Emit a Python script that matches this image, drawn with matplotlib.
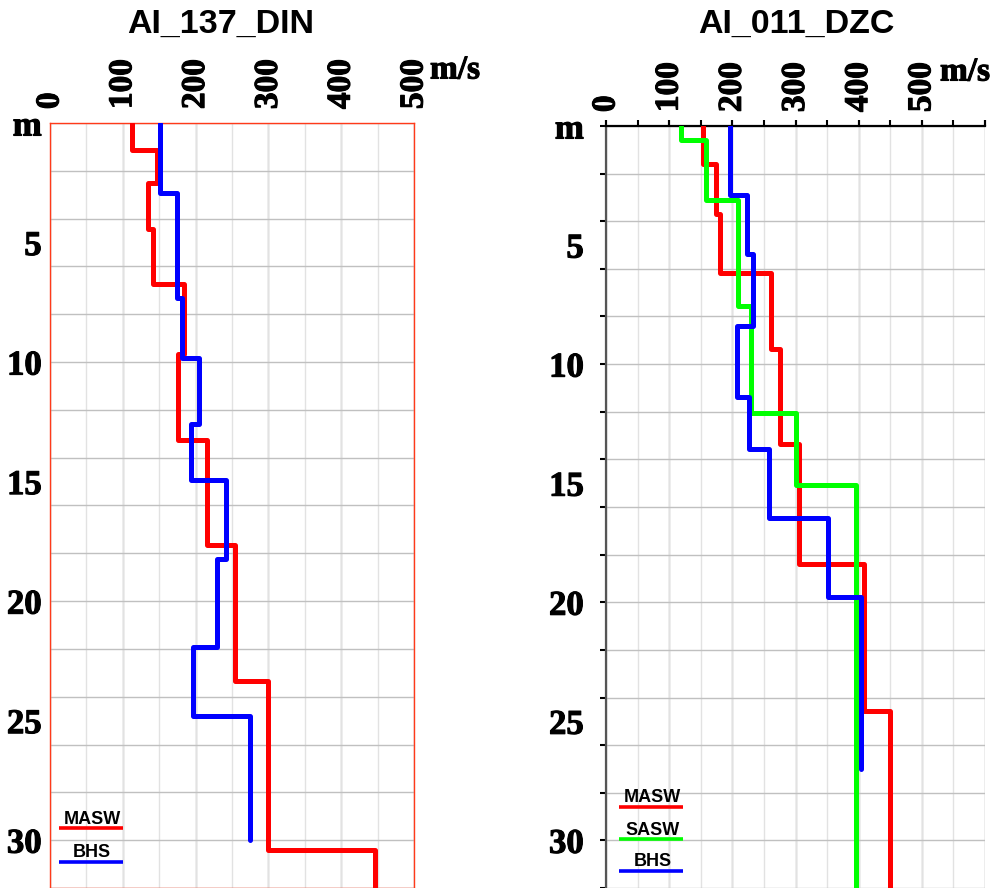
import numpy as np
import matplotlib.pyplot as plt
import matplotlib.patheffects as pe
from matplotlib.ticker import MultipleLocator, FixedLocator

# layer bottoms (m) and velocities (m/s)
din_masw_depth = [0, 1.13, 2.5, 4.43, 6.72, 9.65, 13.25, 17.67, 23.35, 30.4, 32]
din_masw_vel = [113, 147, 134, 142, 184, 176, 215, 254, 299, 446]
din_bhs_depth = [0, 2.92, 7.31, 9.83, 12.57, 14.94, 18.25, 21.9, 24.8, 30.0]
din_bhs_vel = [151, 175, 182, 204, 194, 242, 230, 197, 275]

dzc_masw_depth = [0, 1.61, 3.68, 6.18, 9.38, 13.36, 18.39, 24.56, 32]
dzc_masw_vel = [153, 174, 181, 261, 276, 305, 408, 450]
dzc_sasw_depth = [0, 0.59, 3.09, 7.58, 12.07, 15.06, 32]
dzc_sasw_vel = [119, 159, 209, 229, 300, 396]
dzc_bhs_depth = [0, 2.9, 5.39, 8.38, 11.37, 13.57, 16.48, 19.78, 27.0]
dzc_bhs_vel = [197, 224, 232, 207, 227, 258, 352, 404]

depth_labels = ["m", "5", "10", "15", "20", "25", "30"]
serif = "Liberation Serif"
sans = "Liberation Sans"
heavy = [pe.withStroke(linewidth=0.8, foreground="black")]


def profile(ax, depth, vel, color):
    d = np.asarray(depth)
    v = np.asarray(vel)
    x = np.repeat(v, 2)
    y = np.column_stack([d[:-1], d[1:]]).ravel()
    ax.plot(x, y, color=color, lw=3.6, solid_capstyle="round",
            solid_joinstyle="round", zorder=3)


def setup(ax, xmax, framed):
    ax.set_xlim(0, xmax)
    ax.set_ylim(32, 0)
    ax.xaxis.tick_top()
    ax.xaxis.set_major_locator(MultipleLocator(100))
    ax.xaxis.set_minor_locator(MultipleLocator(50))
    labels = [str(v) if v <= 500 else "" for v in range(0, xmax + 1, 100)]
    ax.set_xticks(range(0, xmax + 1, 100), labels)
    ax.yaxis.set_major_locator(FixedLocator([0, 5, 10, 15, 20, 25, 30]))
    ax.set_yticklabels(depth_labels)
    ax.yaxis.set_minor_locator(MultipleLocator(2))
    ax.yaxis.remove_overlapping_locs = False
    ax.xaxis.remove_overlapping_locs = False
    for lab in ax.get_xticklabels():
        lab.set_fontfamily(serif)
        lab.set_fontweight("bold")
        lab.set_fontsize(24)
        lab.set_rotation(90)
        lab.set_path_effects(heavy)
    for lab in ax.get_yticklabels():
        lab.set_fontfamily(serif)
        lab.set_fontweight("bold")
        lab.set_fontsize(25)
        lab.set_path_effects(heavy)
    ax.grid(True, which="major", axis="x", color="#b4b4b4", lw=1.0)
    ax.grid(True, which="minor", axis="x", color="#e2e2e2", lw=1.0)
    ax.grid(True, which="minor", axis="y", color="#c0c0c0", lw=1.0)
    ax.set_axisbelow(True)
    if framed:
        for s in ax.spines.values():
            s.set_color("#ff3a1a")
            s.set_linewidth(1.0)
        ax.tick_params(axis="x", which="both", length=0, pad=10)
        ax.tick_params(axis="y", which="both", length=0, pad=6)
    else:
        ax.spines["right"].set_visible(False)
        ax.spines["bottom"].set_visible(False)
        ax.spines["top"].set_color("black")
        ax.spines["top"].set_linewidth(1.6)
        ax.spines["left"].set_color("#555555")
        ax.spines["left"].set_linewidth(1.6)
        ax.tick_params(axis="x", which="both", direction="out", length=4,
                       width=1.5, color="black", pad=6)
        ax.tick_params(axis="y", which="major", length=0, pad=16)
        ax.tick_params(axis="y", which="minor", direction="out", length=4,
                       width=1.5, color="black")


def legend(ax, x0, x1, items):
    for name, color, ytxt, yline in items:
        ax.plot([x0, x1], [yline, yline], color=color, lw=2.6,
                solid_capstyle="butt", zorder=4)
        ax.text((x0 + x1) / 2 + 2, ytxt, name, ha="center", va="center",
                fontfamily=sans, fontweight="bold", fontsize=13, zorder=5)


fig = plt.figure(figsize=(9.94, 8.88), dpi=100)

ax1 = fig.add_axes([50 / 994, 0, 364 / 994, 765 / 888])
setup(ax1, 500, True)
profile(ax1, din_masw_depth, din_masw_vel, "#ff0000")
profile(ax1, din_bhs_depth, din_bhs_vel, "#0000ff")
legend(ax1, 12, 100, [("MASW", "#ff0000", 29.15, 29.5),
                      ("BHS", "#0000ff", 30.5, 30.92)])

ax2 = fig.add_axes([606 / 994, 0, 379 / 994, 762 / 888])
setup(ax2, 600, False)
profile(ax2, dzc_masw_depth, dzc_masw_vel, "#ff0000")
profile(ax2, dzc_sasw_depth, dzc_sasw_vel, "#00ff00")
profile(ax2, dzc_bhs_depth, dzc_bhs_vel, "#0000ff")
legend(ax2, 21, 122, [("MASW", "#ff0000", 28.2, 28.6),
                      ("SASW", "#00ff00", 29.6, 29.95),
                      ("BHS", "#0000ff", 30.87, 31.3)])

fig.text(221 / 994, 1 - 24 / 888, "AI_137_DIN", ha="center", va="center",
         fontfamily=sans, fontweight="bold", fontsize=24.5)
fig.text(796 / 994, 1 - 24 / 888, "AI_011_DZC", ha="center", va="center",
         fontfamily=sans, fontweight="bold", fontsize=24.5)
fig.text(430 / 994, 1 - 70 / 888, "m/s", ha="left", va="center",
         fontfamily=serif, fontweight="bold", fontsize=24, path_effects=heavy)
fig.text(940 / 994, 1 - 72 / 888, "m/s", ha="left", va="center",
         fontfamily=serif, fontweight="bold", fontsize=24, path_effects=heavy)

fig.savefig("out.png", dpi=100)
